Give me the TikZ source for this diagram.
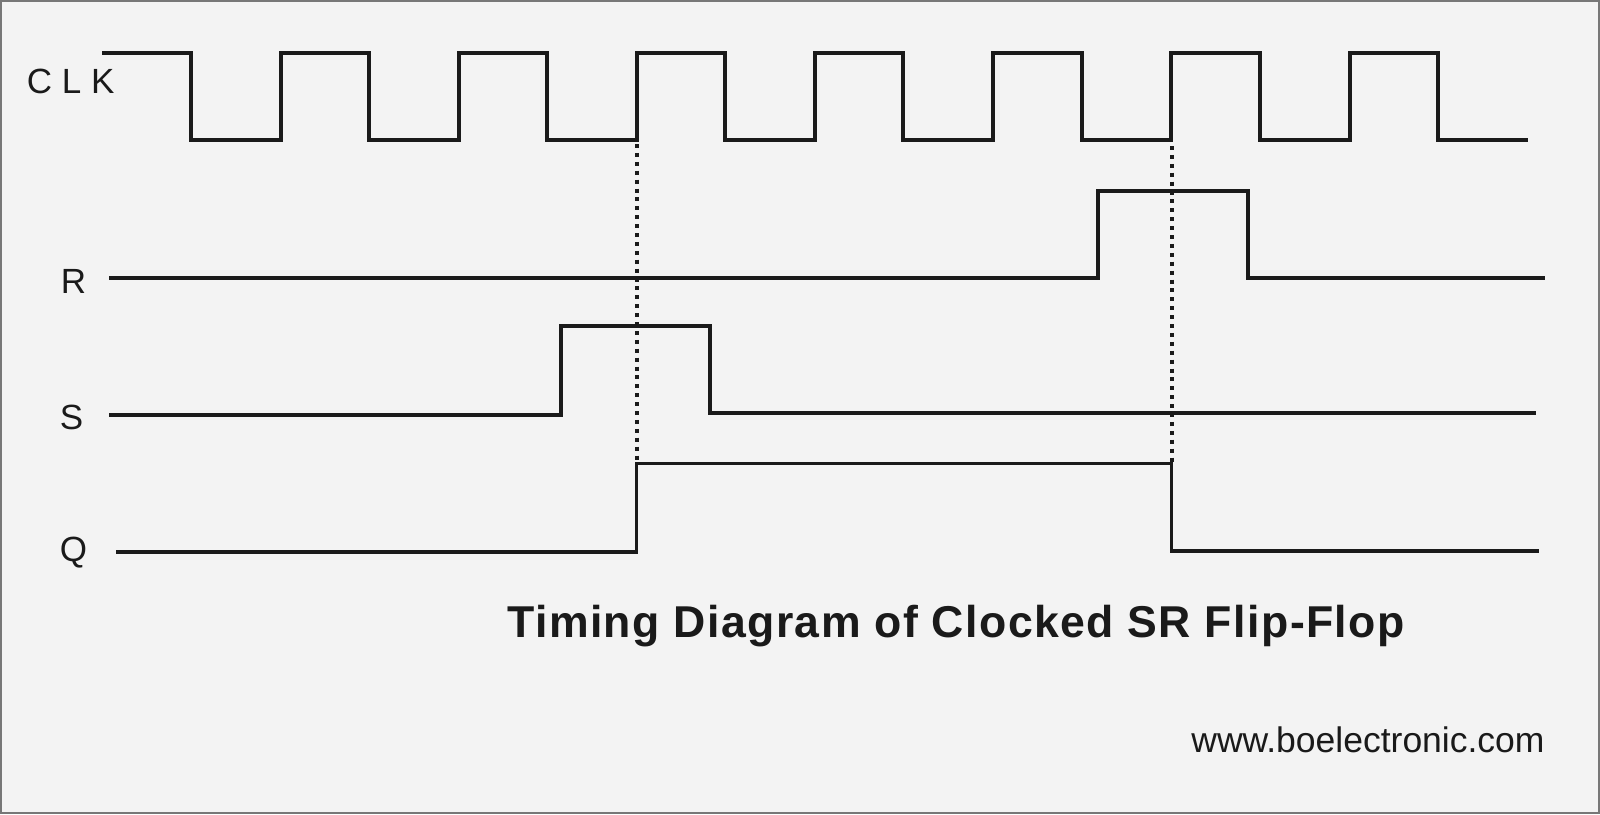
\documentclass[tikz,border=0pt]{standalone}
\usepackage{fontspec}
\setmainfont{Liberation Sans}
\newfontfamily\titlefont[LetterSpace=3.2]{Liberation Sans}
\definecolor{paper}{HTML}{F3F3F3}
\definecolor{ink}{HTML}{1A1A1A}
\definecolor{frame}{HTML}{777777}

\begin{document}
\begin{tikzpicture}[x = 0.5pt, y = -0.5pt, line join = miter,
                        wave/.style = {draw = ink, line width = 2pt},
                        thinwave/.style = {draw = ink, line width = 1.8pt},
                        guide/.style = {draw = ink, line width = 2pt, dash pattern = on 2pt off 2.45pt},
                        signal/.style = {anchor = base, inner sep = 0pt, text = ink, font = \fontsize{17.5}{20}\selectfont}]
      \useasboundingbox (0, 0) rectangle (1600, 814);
      \draw [draw = frame, fill = paper, line width = 1pt] (1, 1) rectangle (1599, 813);

      \coordinate (c0) at (102, 53);
      \coordinate (c1) at (191, 140);
      \coordinate (c2) at (281, 53);
      \coordinate (c3) at (369, 140);
      \coordinate (c4) at (459, 53);
      \coordinate (c5) at (547, 140);
      \coordinate (c6) at (637, 53);
      \coordinate (c7) at (725, 140);
      \coordinate (c8) at (815, 53);
      \coordinate (c9) at (903, 140);
      \coordinate (c10) at (993, 53);
      \coordinate (c11) at (1082, 140);
      \coordinate (c12) at (1171, 53);
      \coordinate (c13) at (1260, 140);
      \coordinate (c14) at (1350, 53);
      \coordinate (c15) at (1438, 140);
      \coordinate (c16) at (1528, 140);
      \draw [wave] (c0) -| (c1) -| (c2) -| (c3) -| (c4) -| (c5) -| (c6) -| (c7) -| (c8)
                   -| (c9) -| (c10) -| (c11) -| (c12) -| (c13) -| (c14) -| (c15) -- (c16);

      \coordinate (r0) at (109, 277.5);
      \coordinate (r1) at (1098, 191);
      \coordinate (r2) at (1248, 277.5);
      \coordinate (r3) at (1545, 277.5);
      \draw [wave] (r0) -| (r1) -| (r2) -- (r3);

      \coordinate (s0) at (109, 415);
      \coordinate (s1) at (560.5, 325.5);
      \coordinate (s2) at (710, 413);
      \coordinate (s3) at (1536, 413);
      \draw [wave] (s0) -| (s1) -| (s2) -- (s3);

      \coordinate (q0) at (116, 552);
      \coordinate (q1) at (636.5, 463.5);
      \coordinate (q2) at (1171.5, 551);
      \coordinate (q3) at (1539, 551);
      \draw [thinwave] (q0) -| (q1) -| (q2) -- (q3);

      \coordinate (d0) at (636.5, 144);
      \coordinate (d1) at (1171.5, 146);
      \draw [guide] (d0) -- (q1);
      \draw [guide] (d1) -- (q1 -| q2);

      \node [signal, anchor = base west] (clk) at (26.5, 93){C L K};
      \node [signal] (rlabel) at (73.5, 293){R};
      \node [signal] (slabel) at (71.5, 429){S};
      \node [signal] (qlabel) at (73.5, 561.5){Q};
      \node [anchor = base west, inner sep = 0pt, text = ink, font = \titlefont\bfseries\fontsize{22.3}{25}\selectfont] (title) at (507, 637){Timing Diagram of Clocked SR Flip-Flop};
      \node [anchor = base west, inner sep = 0pt, text = ink, font = \fontsize{17.75}{20}\selectfont] (site) at (1191, 752){www.boelectronic.com};
\end{tikzpicture}
\end{document}
